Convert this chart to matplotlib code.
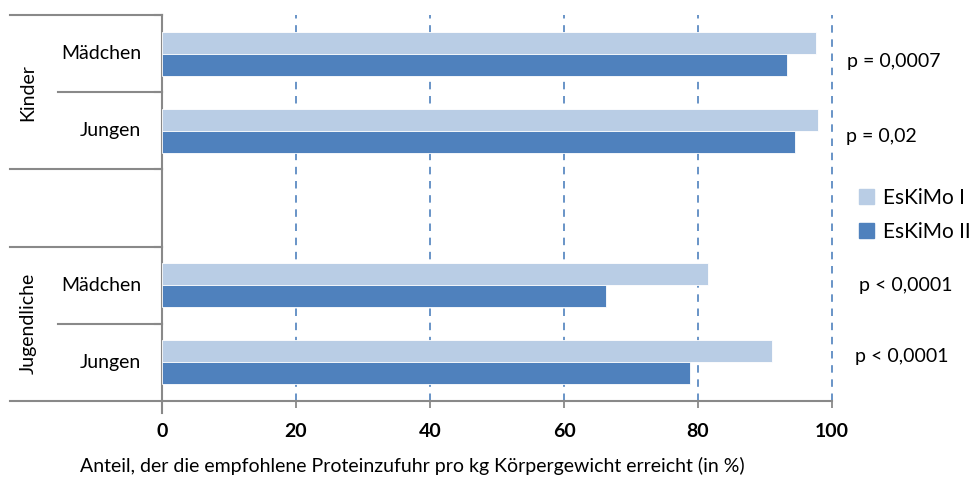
import matplotlib
matplotlib.use("Agg")
from matplotlib import pyplot as plt
from matplotlib.patches import Patch
import matplotlib.transforms as mtransforms
import numpy as np

# data
groups = ["Kinder", "Jugendliche"]
sexes = ["Mädchen", "Jungen", "Mädchen", "Jungen"]
eskimo1 = [97.6, 97.9, 81.5, 91.0]
eskimo2 = [93.3, 94.5, 66.3, 78.8]
p_labels = ["p = 0,0007", "p = 0,02", "p < 0,0001", "p < 0,0001"]
series_names = ["EsKiMo I", "EsKiMo II"]
xticks = [0, 20, 40, 60, 80, 100]

LIGHT = "#B9CDE5"
DARK = "#4F81BD"
GREY = "#898989"

plt.rcParams['font.family'] = ['Lato', 'DejaVu Sans']
plt.rcParams['font.size'] = 14

fig = plt.figure(figsize=(9.71, 4.79), dpi=100)
ax = fig.add_axes([162/971, 1-401/479, 670/971, 386/479])

# slot positions: two per group, empty slot in between
pos = np.array([0, 1, 3, 4])
h = 0.285
ax.barh(pos - h/2, eskimo1, height=h, color=LIGHT, edgecolor="white", linewidth=0.6, zorder=3)
ax.barh(pos + h/2, eskimo2, height=h, color=DARK, edgecolor="white", linewidth=0.6, zorder=3)

ax.set_xlim(0, 100)
ax.set_ylim(4.5, -0.5)
ax.set_xticks(xticks)
ax.set_xticklabels([str(t) for t in xticks], fontweight="bold", fontsize=14)
ax.set_yticks([])
ax.tick_params(axis="x", length=5, color=GREY, width=1.3, pad=11)

for t in xticks[1:]:
    ax.axvline(t, color=DARK, lw=1.2, ls=(0, (4.5, 4)), zorder=1, clip_on=False)

for s in ["top", "right"]:
    ax.spines[s].set_visible(False)
for s in ["left", "bottom"]:
    ax.spines[s].set_color(GREY)
    ax.spines[s].set_linewidth(1.5)

# multi level category axis
trans = mtransforms.blended_transform_factory(ax.transAxes, ax.transData)
outer_x = (10 - 162) / 670
inner_x = (58 - 162) / 670
for yb in [-0.5, 1.5, 2.5, 4.5]:
    ax.plot([outer_x, 0], [yb, yb], color=GREY, lw=1.5, transform=trans, clip_on=False)
for yb in [0.5, 3.5]:
    ax.plot([inner_x, 0], [yb, yb], color=GREY, lw=1.5, transform=trans, clip_on=False)
for yb in [-0.5, 0.5, 1.5, 2.5, 3.5]:
    ax.plot([-0.011, 0], [yb, yb], color=GREY, lw=1.5, transform=trans, clip_on=False)
ax.plot([0, 0], [4.5, 4.66], color=GREY, lw=1.5, transform=trans, clip_on=False)

for p, lab in zip(pos, sexes):
    ax.text(-0.031, p, lab, transform=trans, ha="right", va="center")
ax.text(-0.2, 0.5, groups[0], transform=trans, rotation=90, ha="center", va="center")
ax.text(-0.2, 3.5, groups[1], transform=trans, rotation=90, ha="center", va="center")

# p values
p_x = [1.022, 1.021, 1.040, 1.034]
p_dy = [0.1, 0.07, 0.01, -0.08]
for p, lab, px, dy in zip(pos, p_labels, p_x, p_dy):
    ax.text(px, p + dy, lab, transform=trans, ha="left", va="center")

handles = [Patch(color=LIGHT), Patch(color=DARK)]
fig.legend(handles, series_names, loc="upper left", bbox_to_anchor=(859/971, 1-188/479),
           frameon=False, handlelength=0.7, handleheight=0.7, handletextpad=0.45,
           labelspacing=0.65, fontsize=15, borderaxespad=0, borderpad=0)

fig.text(412/971, 1-466/479, "Anteil, der die empfohlene Proteinzufuhr pro kg Körpergewicht erreicht (in %)",
         ha="center", va="center")

fig.savefig("out.png", dpi=100)
